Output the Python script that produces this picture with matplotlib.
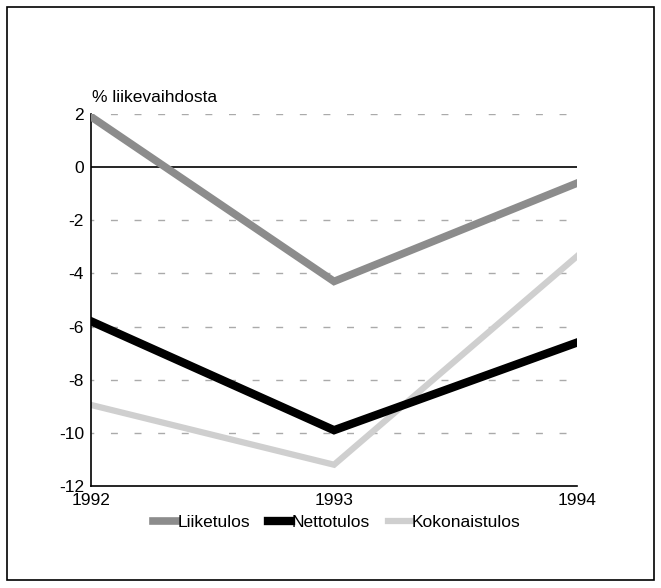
import matplotlib.pyplot as plt
from matplotlib.patches import Rectangle

plt.rcParams['font.family'] = ['Liberation Sans', 'DejaVu Sans']
plt.rcParams['axes.unicode_minus'] = False

# data
years = [1992, 1993, 1994]
liiketulos = [1.9, -4.3, -0.6]
nettotulos = [-5.8, -9.9, -6.6]
kokonaistulos = [-8.95, -11.2, -3.35]
yticks = [2, 0, -2, -4, -6, -8, -10, -12]

fig = plt.figure(figsize=(6.61, 5.88), dpi=100)
ax = fig.add_axes([0.1377, 0.1735, 0.7353, 0.6325])

# dashed grid, solid zero line
for y in yticks:
    if y == 0:
        ax.axhline(y, color='black', lw=1.2, zorder=1)
    elif y != -12:
        ax.axhline(y, color='#aaaaaa', lw=1.0, ls=(3, (5, 12)), zorder=1)

ax.plot(years, liiketulos, color='#8c8c8c', lw=5.5, label='Liiketulos',
        solid_joinstyle='miter', zorder=3)
ax.plot(years, nettotulos, color='black', lw=6, label='Nettotulos',
        solid_joinstyle='miter', zorder=3)
ax.plot(years, kokonaistulos, color='#cfcfcf', lw=4.5, label='Kokonaistulos',
        solid_joinstyle='miter', zorder=2)

ax.set_xlim(1992, 1994)
ax.set_ylim(-12, 2)
ax.set_xticks(years)
ax.set_yticks(yticks)
ax.tick_params(length=0, labelsize=12.5, pad=5)
ax.spines['top'].set_visible(False)
ax.spines['right'].set_visible(False)
ax.spines['left'].set_linewidth(1.2)
ax.spines['bottom'].set_linewidth(1.2)

fig.text(0.139, 0.822, '% liikevaihdosta', fontsize=12.5, ha='left', va='bottom')

fig.legend(loc='center', bbox_to_anchor=(0.51, 0.112), ncol=3, frameon=False,
           fontsize=12.5, handlelength=1.35, handletextpad=0.05, columnspacing=1.0)

# outer frame
fig.patches.append(Rectangle((0.011, 0.013), 0.978, 0.975, transform=fig.transFigure,
                             fill=False, ec='black', lw=1.2))

fig.savefig('out.png', dpi=100)
